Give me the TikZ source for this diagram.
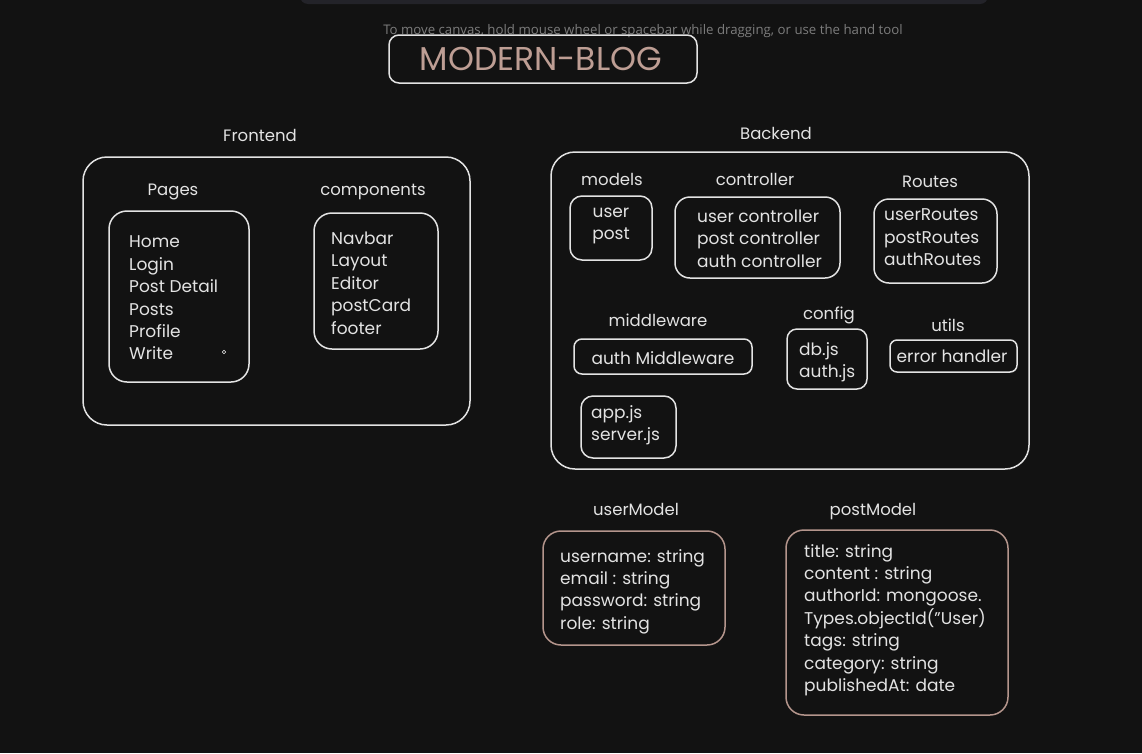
\documentclass[tikz,border=0pt]{standalone}
\usepackage{fontspec}
\setmainfont{Poppins}
\newfontfamily\hintfont{Open Sans}
\definecolor{bg}{HTML}{121212}
\definecolor{ink}{HTML}{E3E3E3}
\definecolor{mbrown}{HTML}{B4958C}
\definecolor{titlec}{HTML}{BE9E94}
\definecolor{hintc}{HTML}{7C7C7C}
\definecolor{barc}{HTML}{232329}
\tikzset{
  sbox/.style={draw=ink, line width=1.5pt, rounded corners=15pt, inner sep=0pt},
  bbox/.style={draw=ink, line width=1.5pt, rounded corners=24pt, inner sep=0pt},
  mbox/.style={draw=mbrown, line width=1.5pt, rounded corners=18pt, inner sep=0pt},
  txt/.style={text=ink, font=\fontsize{17}{22.4}\selectfont, inner sep=0pt, align=left},
  ctxt/.style={text=ink, font=\fontsize{17}{22.4}\selectfont, inner sep=0pt, align=center},
  lbl/.style={text=ink, font=\fontsize{16.5}{20}\selectfont, inner sep=0pt, text height=11pt, text depth=4pt, yshift=-2.5pt}
}
\begin{document}
\begin{tikzpicture}[x=1pt,y=-1pt]
\fill[bg] (0,0) rectangle (1142,753);
\useasboundingbox (0,0) rectangle (1142,753);
% top bar
\fill[barc, rounded corners=8pt] (300,-12) rectangle (988,4);
\node[text=hintc, font=\hintfont\fontsize{13.25}{16}\selectfont, inner sep=0pt] (hint) at (643,31) {To move canvas, hold mouse wheel or spacebar while dragging, or use the hand tool};
% title
\node[sbox, rounded corners=10pt, minimum width=308pt, minimum height=48pt] (titlebox) at (543,59) {};
\node[text=titlec, font=\fontsize{33}{36}\selectfont, inner sep=0pt] (title) at (541,59) {MODERN-BLOG};

% Frontend
\node[lbl] (felbl) at (260,135) {Frontend};
\node[bbox, minimum width=387pt, minimum height=268pt] (febox) at (276.5,291) {};
\node[lbl] (pageslbl) at (173,189) {Pages};
\node[sbox, rounded corners=18pt, minimum width=140pt, minimum height=171pt] (pagesbox) at (179,296.5) {};
\node[txt, anchor=west] (pages) at (129,298) {Home\\Login\\Post Detail\\Posts\\Profile\\Write};
\draw[ink!60, line width=0.5pt] (224,352) circle (1.8);
\node[lbl] (complbl) at (373,189) {components};
\node[sbox, rounded corners=18pt, minimum width=124pt, minimum height=136pt] (compbox) at (376,281) {};
\node[txt, anchor=west] (comp) at (331,283) {Navbar\\Layout\\Editor\\postCard\\footer};

% Backend
\node[lbl] (belbl) at (776,133) {Backend};
\node[bbox, minimum width=478pt, minimum height=317pt] (bebox) at (790,310.5) {};
\node[lbl] (modlbl) at (612,179) {models};
\node[sbox, rounded corners=12pt, minimum width=82pt, minimum height=64pt] (modbox) at (611,228) {};
\node[ctxt] (mod) at (611,226) {user\\post};
\node[lbl] (ctrllbl) at (755,179) {controller};
\node[sbox, minimum width=165pt, minimum height=81pt] (ctrlbox) at (757.5,237.5) {};
\node[txt, anchor=west] (ctrl) at (697,238.5) {user controller\\post controller\\auth controller};
\node[lbl] (routlbl) at (930,181) {Routes};
\node[sbox, minimum width=123pt, minimum height=84pt] (routbox) at (935.5,241) {};
\node[txt, anchor=west] (rout) at (884,237.5) {userRoutes\\postRoutes\\authRoutes};
\node[lbl] (midlbl) at (658,320) {middleware};
\node[sbox, rounded corners=8pt, minimum width=178pt, minimum height=35pt] (midbox) at (663,356.5) {};
\node[ctxt] (mid) at (663,358) {auth Middleware};
\node[lbl] (conflbl) at (829,313) {config};
\node[sbox, rounded corners=10pt, minimum width=80pt, minimum height=60pt] (confbox) at (827,359) {};
\node[txt, anchor=west] (conf) at (799,362) {db.js\\auth.js};
\node[lbl] (utillbl) at (948,325) {utils};
\node[sbox, rounded corners=7pt, minimum width=127pt, minimum height=32pt] (utilbox) at (953.5,356) {};
\node[ctxt] (util) at (952,356) {error handler};
\node[sbox, rounded corners=12pt, minimum width=95pt, minimum height=62pt] (appbox) at (628.5,427) {};
\node[txt, anchor=west] (app) at (591,425) {app.js\\server.js};

% models
\node[lbl] (umlbl) at (636,509) {userModel};
\node[mbox, minimum width=182pt, minimum height=114pt] (umbox) at (634,588) {};
\node[txt, anchor=west] (um) at (560,591.5) {username: string\\email : string\\password: string\\role: string};
\node[lbl] (pmlbl) at (873,509) {postModel};
\node[mbox, minimum width=222pt, minimum height=185pt] (pmbox) at (897,622.5) {};
\node[txt, anchor=west] (pm) at (804,620) {title: string\\content : string\\authorId: mongoose.\\Types.objectId("User)\\tags: string\\category: string\\publishedAt: date};
\end{tikzpicture}
\end{document}
